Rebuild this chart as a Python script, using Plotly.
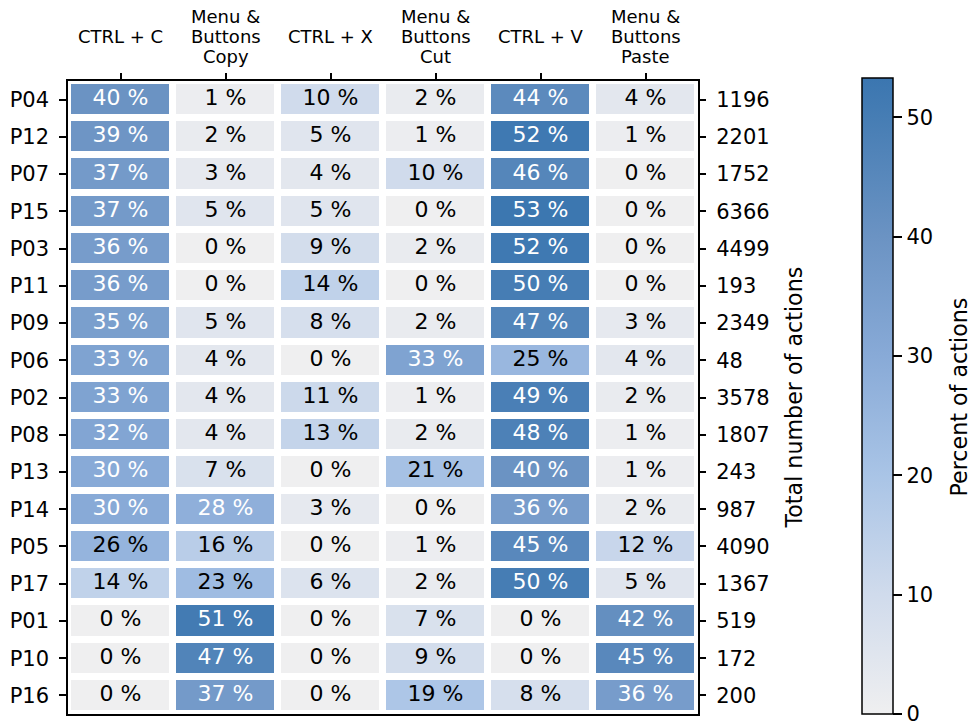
import plotly.graph_objects as go

# ---- data ----
participants = ["P04", "P12", "P07", "P15", "P03", "P11", "P09", "P06", "P02",
                "P08", "P13", "P14", "P05", "P17", "P01", "P10", "P16"]
totals = [1196, 2201, 1752, 6366, 4499, 193, 2349, 48, 3578,
          1807, 243, 987, 4090, 1367, 519, 172, 200]
columns = ["CTRL + C", "Menu &<br>Buttons<br>Copy", "CTRL + X",
           "Menu &<br>Buttons<br>Cut", "CTRL + V", "Menu &<br>Buttons<br>Paste"]
ctrl_c = [40, 39, 37, 37, 36, 36, 35, 33, 33, 32, 30, 30, 26, 14, 0, 0, 0]
menu_copy = [1, 2, 3, 5, 0, 0, 5, 4, 4, 4, 7, 28, 16, 23, 51, 47, 37]
ctrl_x = [10, 5, 4, 5, 9, 14, 8, 0, 11, 13, 0, 3, 0, 6, 0, 0, 0]
menu_cut = [2, 1, 10, 0, 2, 0, 2, 33, 1, 2, 21, 0, 1, 2, 7, 9, 19]
ctrl_v = [44, 52, 46, 53, 52, 50, 47, 25, 49, 48, 40, 36, 45, 50, 0, 0, 8]
menu_paste = [4, 1, 0, 0, 0, 0, 3, 4, 2, 1, 1, 2, 12, 5, 42, 45, 36]
series = [ctrl_c, menu_copy, ctrl_x, menu_cut, ctrl_v, menu_paste]
cbar_ticks = [0, 10, 20, 30, 40, 50]

# ---- style ----
FONT = "DejaVu Sans"
W, H = 970, 724
ML, MR, MT, MB = 68, 10, 81, 10
PW, PH = W - ML - MR, H - MT - MB
ZMIN, ZMAX = 0, 53.3
colorscale = [
    [0.0, "#efeff0"],
    [10 / ZMAX, "#d0dbec"],
    [20 / ZMAX, "#a9c4e6"],
    [30 / ZMAX, "#88aad7"],
    [40 / ZMAX, "#6b93c3"],
    [50 / ZMAX, "#467db4"],
    [1.0, "#3b76b0"],
]

nrows, ncols = len(participants), len(columns)
z = [[series[c][r] for c in range(ncols)] for r in range(nrows)]

fig = go.Figure()
fig.add_trace(go.Heatmap(
    z=z, x=list(range(ncols)), y=list(range(nrows)),
    zmin=ZMIN, zmax=ZMAX, colorscale=colorscale, xgap=7, ygap=7,
    hoverinfo="skip",
    colorbar=dict(
        x=(862 - ML) / PW, xanchor="left", xpad=0,
        y=0, yanchor="bottom", ypad=0,
        lenmode="pixels", len=636, thickness=31,
        outlinecolor="black", outlinewidth=1.5,
        ticks="outside", ticklen=9, tickwidth=1.5, tickcolor="black",
        tickmode="array", tickvals=cbar_ticks,
        ticktext=[str(t) for t in cbar_ticks],
        ticklabeloverflow="allow",
        tickfont=dict(family=FONT, size=21, color="black"),
    ),
))

# cell labels
for color, cond in (("white", lambda v: v >= 27), ("black", lambda v: v < 27)):
    xs, ys, ts = [], [], []
    for c in range(ncols):
        for r in range(nrows):
            v = series[c][r]
            if cond(v):
                xs.append(c)
                ys.append(r)
                ts.append(f"{v} %")
    fig.add_trace(go.Scatter(
        x=xs, y=ys, text=ts, mode="text", showlegend=False, hoverinfo="skip",
        textfont=dict(family=FONT, size=22, color=color),
    ))

# invisible trace for right axis
fig.add_trace(go.Scatter(
    x=[0] * nrows, y=list(range(nrows)), yaxis="y2", mode="markers",
    marker=dict(opacity=0), showlegend=False, hoverinfo="skip",
))

# top column labels (line by line, centred around the middle line)
LINE = 20
for c, lab in enumerate(columns):
    lines = lab.split("<br>")
    n = len(lines)
    for i, ln in enumerate(lines):
        ypix = 36 + (i - (n - 1) / 2) * LINE
        fig.add_annotation(
            x=c, xref="x", y=1 + (MT - ypix) / PH, yref="paper",
            text=ln, showarrow=False, xanchor="center", yanchor="middle",
            font=dict(family=FONT, size=18, color="black"),
        )

fig.add_annotation(
    x=(793 - ML) / PW, y=0.5, xref="paper", yref="paper",
    text="Total number of actions", textangle=-90, showarrow=False,
    xanchor="center", yanchor="middle",
    font=dict(family=FONT, size=22.2, color="black"),
)
fig.add_annotation(
    x=(958 - ML) / PW, y=0.5, xref="paper", yref="paper",
    text="Percent of actions", textangle=-90, showarrow=False,
    xanchor="center", yanchor="middle",
    font=dict(family=FONT, size=22.2, color="black"),
)

axis_common = dict(
    showgrid=False, zeroline=False, showline=True, linecolor="black",
    linewidth=1.5, mirror=True, ticks="outside", tickwidth=1.5,
    tickcolor="black", automargin=False,
)
fig.update_layout(
    width=W, height=H,
    margin=dict(l=ML, r=MR, t=MT, b=MB, autoexpand=False),
    paper_bgcolor="white", plot_bgcolor="white",
    font=dict(family=FONT, color="black"),
    showlegend=False,
    xaxis=dict(
        domain=[0, 630 / PW], range=[-0.5, ncols - 0.5], side="top",
        tickvals=list(range(ncols)), ticktext=[""] * ncols, ticklen=6,
        **axis_common,
    ),
    yaxis=dict(
        range=[nrows - 0.5, -0.5], tickvals=list(range(nrows)),
        ticktext=participants, tickfont=dict(family=FONT, size=21),
        ticklabelstandoff=6, ticklen=7,
        **axis_common,
    ),
    yaxis2=dict(
        overlaying="y", side="right", anchor="x",
        range=[nrows - 0.5, -0.5], tickvals=list(range(nrows)),
        ticktext=[str(t) for t in totals], tickfont=dict(family=FONT, size=21),
        showgrid=False, zeroline=False, ticks="outside", ticklen=7,
        tickwidth=1.5, tickcolor="black", automargin=False,
        ticklabelstandoff=6,
    ),
)

fig.write_html(
    "out.html",
    config={"displayModeBar": False},
    post_script="document.body.style.margin='0';document.body.style.overflow='hidden';",
)
